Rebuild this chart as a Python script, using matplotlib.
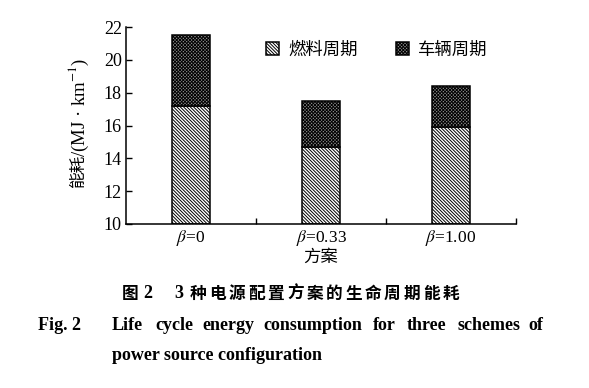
import matplotlib
matplotlib.use("Agg")
import matplotlib.pyplot as plt
import numpy as np

categories = [r"$\beta$=0", r"$\beta$=0.33", r"$\beta$=1.00"]
fuel_cycle = [17.2, 14.7, 15.9]
vehicle_cycle = [4.3, 2.8, 2.5]   # stacked on top of fuel cycle
series_names = ["燃料周期", "车辆周期"]
yticks = [10, 12, 14, 16, 18, 20, 22]

plt.rcParams["mathtext.fontset"] = "stix"
plt.rcParams["hatch.linewidth"] = 0.7
SERIF = ["Liberation Serif", "Noto Sans CJK SC"]
CJK = ["Noto Sans CJK SC", "DejaVu Sans"]

fig = plt.figure(figsize=(5.89, 3.88), dpi=100)
ax = fig.add_axes([126/589, 1-224/388, (516-126)/589, (224-27)/388])

x = np.arange(len(categories))
w = 0.29
ax.bar(x, np.array(fuel_cycle) - 10, bottom=10, width=w, facecolor="white",
       edgecolor="black", linewidth=1.1, hatch="\\" * 10, label=series_names[0])
ax.bar(x, vehicle_cycle, bottom=fuel_cycle, width=w, facecolor="#8f8f8f",
       edgecolor="black", linewidth=1.1, hatch="x" * 10, label=series_names[1])

ax.set_xlim(-0.5, 2.5)
ax.set_ylim(10, 22)
ax.set_yticks(yticks)
ax.set_yticklabels([str(v) for v in yticks], family=SERIF, fontsize=13)
ax.set_xticks(x)
ax.set_xticklabels(categories, family=SERIF, fontsize=12.5)
ax.set_xticks([0.5, 1.5, 2.5], minor=True)
ax.tick_params(axis="x", which="major", length=0, pad=3)
ax.tick_params(axis="x", which="minor", direction="in", length=4, width=1)
ax.tick_params(axis="y", direction="in", length=4, width=1, pad=3)
for s in ["top", "right"]:
    ax.spines[s].set_visible(False)
for s in ["left", "bottom"]:
    ax.spines[s].set_linewidth(1.1)

# y label composed of CJK part and serif/math part
fig.text(79/589, 1-188/388, "能耗", family=CJK, fontsize=12, rotation=90,
         ha="center", va="bottom")
fig.text(79/589, 1-157/388, "/(MJ · km$^{-1}$)", family=SERIF, fontsize=13.5,
         rotation=90, ha="center", va="bottom")
ax.set_xlabel("方案", family=CJK, fontsize=12.5, labelpad=0)

ax.legend(ncol=2, loc="upper left", bbox_to_anchor=(0.32, 1.01), frameon=False,
          prop={"family": CJK, "size": 12.5}, handlelength=0.75, handleheight=0.75,
          handletextpad=0.5, columnspacing=2.2)

# captions
title_cn = "种电源配置方案的生命周期能耗"
fig.text(122/589, 1-294/388, "图", family=CJK, fontsize=12, fontweight="bold", va="center")
fig.text(143/589, 1-294/388, "2", family=SERIF, fontsize=13, fontweight="bold", va="center")
fig.text(174/589, 1-294/388, "3", family=SERIF, fontsize=13, fontweight="bold", va="center")
for i, ch in enumerate(title_cn):
    fig.text((190 + i*19.4)/589, 1-294/388, ch, family=CJK, fontsize=12,
             fontweight="bold", va="center")

fig.text(38/589, 1-325/388, "Fig. 2", family=SERIF, fontsize=13, fontweight="bold", va="center")
words1 = ["Life", "cycle", "energy", "consumption", "for", "three", "schemes", "of"]
xpos1 = [112, 155, 202, 263, 373, 407, 457, 528]
for wd, xp in zip(words1, xpos1):
    fig.text(xp/589, 1-325/388, wd, family=SERIF, fontsize=13, fontweight="bold", va="center")
fig.text(112/589, 1-355/388, "power source configuration", family=SERIF, fontsize=13,
         fontweight="bold", va="center")

fig.savefig("out.png", dpi=100)
